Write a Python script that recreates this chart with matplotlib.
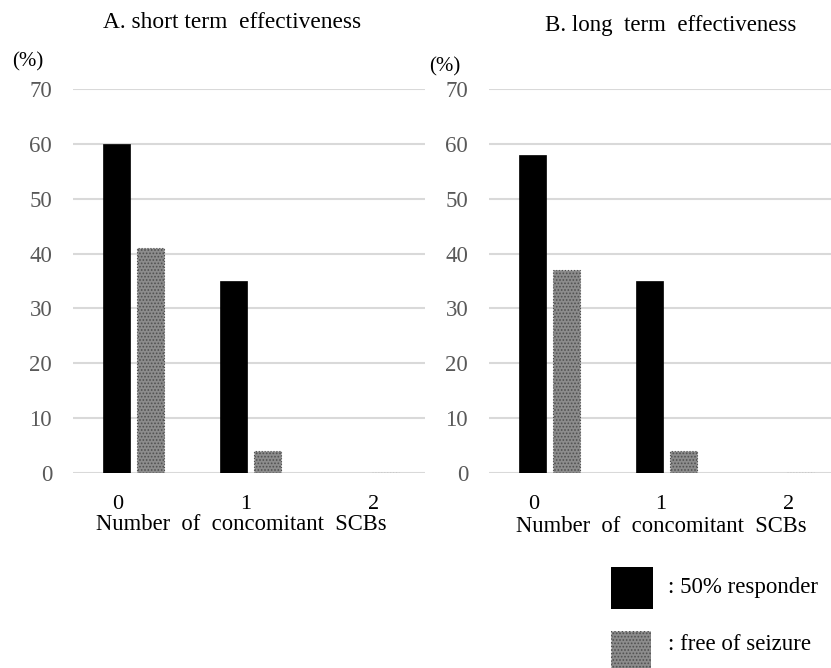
import matplotlib.pyplot as plt
import numpy as np

plt.rcParams['font.family'] = ['Liberation Serif', 'DejaVu Serif']
plt.rcParams['hatch.linewidth'] = 0.8

categories = ['0', '1', '2']
short_responder = [60, 35, 0]
short_free = [41, 4, 0]
long_responder = [58, 35, 0]
long_free = [37, 4, 0]

W, H = 831, 668
fig = plt.figure(figsize=(W / 100, H / 100), dpi=100)

bar_w = 0.23
tick_pos = [-0.12, 0.97, 2.06]
grid_col = '#d9d9d9'
gray_face = '#8c8c8c'


def panel(ax, resp, free, xmax):
    x = np.arange(len(categories))
    ax.bar(x - 0.13, resp, bar_w, color='black', edgecolor='black',
           linewidth=0.5, zorder=3)
    ax.bar(x + 0.16, free, bar_w, color=gray_face, edgecolor='#505050',
           hatch='.....', linewidth=0.8, linestyle=':', zorder=3)
    ax.set_xlim(-0.5, xmax)
    ax.set_ylim(0, 70)
    ax.set_yticks(range(0, 71, 10))
    ax.yaxis.grid(True, color=grid_col, linewidth=1.5)
    ax.set_axisbelow(True)
    for s in ax.spines.values():
        s.set_visible(False)
    ax.tick_params(axis='y', length=0, pad=15, labelsize=16.5,
                   labelcolor='#595959')
    ax.set_xticks(tick_pos)
    ax.set_xticklabels(categories)
    ax.tick_params(axis='x', length=0, pad=16, labelsize=16)


# left panel
ax1 = fig.add_axes([73 / W, 1 - 473 / H, 352 / W, 384 / H])
panel(ax1, short_responder, short_free, 2.5)
# right panel, runs off the right edge like the original
ax2 = fig.add_axes([489 / W, 1 - 473 / H, 342 / W, 384 / H])
panel(ax2, long_responder, long_free, 2.42)

# titles and labels
fig.text(232 / W, 1 - 23 / H, 'A. short term  effectiveness', ha='center',
         va='center', fontsize=16.8)
fig.text(671 / W, 1 - 25 / H, 'B. long  term  effectiveness', ha='center',
         va='center', fontsize=16.5)
fig.text(28 / W, 1 - 62 / H, '(%)', ha='center', va='center', fontsize=15)
fig.text(445 / W, 1 - 67 / H, '(%)', ha='center', va='center', fontsize=15)
fig.text(241 / W, 1 - 525 / H, 'Number  of  concomitant  SCBs', ha='center',
         va='center', fontsize=16.3)
fig.text(661 / W, 1 - 526 / H, 'Number  of  concomitant  SCBs', ha='center',
         va='center', fontsize=16.3)

# legend drawn as boxes
lg1 = fig.add_axes([611 / W, 1 - 609 / H, 42 / W, 42 / H])
lg1.add_patch(plt.Rectangle((0, 0), 1, 1, facecolor='black',
                            edgecolor='black'))
lg2 = fig.add_axes([611 / W, 1 - 673 / H, 40 / W, 42 / H])
lg2.add_patch(plt.Rectangle((0, 0), 1, 1, facecolor=gray_face,
                            edgecolor='#505050', hatch='.....',
                            linestyle=':'))
for a in (lg1, lg2):
    a.set_xlim(0, 1)
    a.set_ylim(0, 1)
    a.axis('off')
fig.text(668 / W, 1 - 588 / H, ': 50% responder', ha='left', va='center',
         fontsize=16.5)
fig.text(668 / W, 1 - 645 / H, ': free of seizure', ha='left', va='center',
         fontsize=16.5)

fig.savefig('out.png', dpi=100)
